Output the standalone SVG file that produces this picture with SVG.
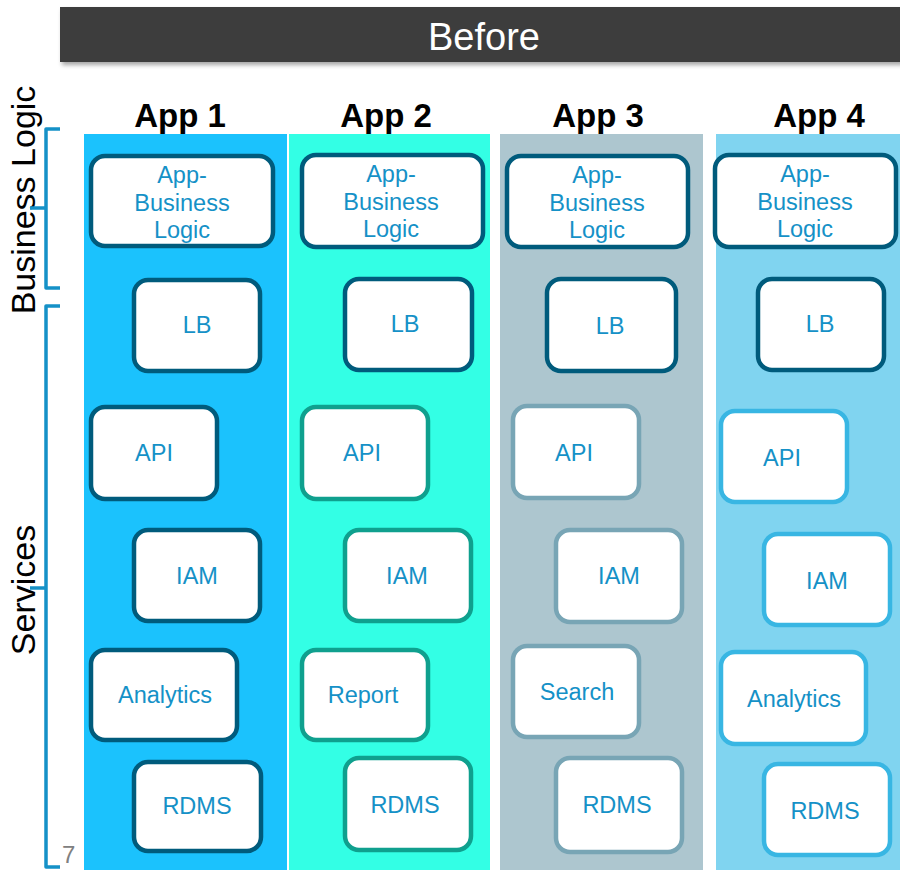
<svg xmlns="http://www.w3.org/2000/svg" width="900" height="870" viewBox="0 0 900 870">
  <defs>
    <filter id="shadow" x="-5%" y="-30%" width="110%" height="160%">
      <feDropShadow dx="2" dy="3" stdDeviation="2" flood-color="#000" flood-opacity="0.35"/>
    </filter>
    <style>
      .box { fill: #ffffff; stroke-width: 4.5; }
      .dark { stroke: #005b7c; }
      .teal { stroke: #0fa08e; }
      .gray { stroke: #78a5b5; }
      .sky { stroke: #38b6e3; }
      .lbl { font-family: "Liberation Sans", Arial, sans-serif; font-size: 23.5px; fill: #1591c7; text-anchor: middle; }
      .app { font-family: "Liberation Sans", Arial, sans-serif; font-size: 33px; font-weight: bold; fill: #000; text-anchor: middle; }
      .side { font-family: "Liberation Sans", Arial, sans-serif; font-size: 34px; fill: #000; text-anchor: middle; }
      .brace { fill: none; stroke: #1591c7; stroke-width: 3.5; stroke-linejoin: round; }
    </style>
  </defs>

  <rect width="900" height="870" fill="#ffffff"/>

  <!-- title bar -->
  <g id="title">
    <rect x="60" y="7" width="845" height="55" fill="#3d3d3d" filter="url(#shadow)"/>
    <text x="484" y="50" font-family="Liberation Sans, Arial, sans-serif" font-size="38" fill="#ffffff" text-anchor="middle">Before</text>
  </g>

  <!-- side labels and braces -->
  <g id="side-labels">
    <text class="side" transform="translate(35,200) rotate(-90)">Business Logic</text>
    <text class="side" transform="translate(35,590) rotate(-90)">Services</text>
    <path class="brace" d="M60,129 L46,129 L46,288 L60,288 M46,208 L30,208"/>
    <path class="brace" d="M60,306 L46,306 L46,867 L60,867 M46,588 L30,588"/>
    <text x="62" y="863" font-family="Liberation Sans, Arial, sans-serif" font-size="24" fill="#808080">7</text>
  </g>

  <!-- column backgrounds -->
  <g id="columns">
    <rect x="84" y="134" width="203" height="736" fill="#1bc2fd"/>
    <rect x="289" y="134" width="201" height="736" fill="#33ffe5"/>
    <rect x="500" y="134" width="203" height="736" fill="#adc6cf"/>
    <rect x="716" y="134" width="184" height="736" fill="#80d4f0"/>
  </g>

  <!-- column titles -->
  <g id="titles">
    <text class="app" x="180" y="127">App 1</text>
    <text class="app" x="386" y="127">App 2</text>
    <text class="app" x="598" y="127">App 3</text>
    <text class="app" x="819" y="127">App 4</text>
  </g>

  <!-- App 1 -->
  <g id="app1-logic">
    <rect class="box dark" x="91" y="156" width="182" height="90" rx="14"/>
    <text class="lbl"><tspan x="182" y="183">App-</tspan><tspan x="182" y="211">Business</tspan><tspan x="182" y="238">Logic</tspan></text>
  </g>
  <g id="app1-lb">
    <rect class="box dark" x="134" y="280" width="126" height="91" rx="14"/>
    <text class="lbl" x="197" y="333">LB</text>
  </g>
  <g id="app1-api">
    <rect class="box dark" x="91" y="407" width="126" height="92" rx="14"/>
    <text class="lbl" x="154" y="461">API</text>
  </g>
  <g id="app1-iam">
    <rect class="box dark" x="134" y="530" width="126" height="91" rx="14"/>
    <text class="lbl" x="197" y="584">IAM</text>
  </g>
  <g id="app1-analytics">
    <rect class="box dark" x="91" y="650" width="146" height="90" rx="14"/>
    <text class="lbl" x="165" y="703">Analytics</text>
  </g>
  <g id="app1-rdms">
    <rect class="box dark" x="134" y="762" width="127" height="89" rx="14"/>
    <text class="lbl" x="197" y="814">RDMS</text>
  </g>

  <!-- App 2 -->
  <g id="app2-logic">
    <rect class="box dark" x="302" y="155" width="181" height="92" rx="14"/>
    <text class="lbl"><tspan x="391" y="182">App-</tspan><tspan x="391" y="210">Business</tspan><tspan x="391" y="237">Logic</tspan></text>
  </g>
  <g id="app2-lb">
    <rect class="box dark" x="345" y="279" width="127" height="91" rx="14"/>
    <text class="lbl" x="405" y="332">LB</text>
  </g>
  <g id="app2-api">
    <rect class="box teal" x="302" y="407" width="126" height="92" rx="14"/>
    <text class="lbl" x="362" y="461">API</text>
  </g>
  <g id="app2-iam">
    <rect class="box teal" x="345" y="530" width="126" height="91" rx="14"/>
    <text class="lbl" x="407" y="584">IAM</text>
  </g>
  <g id="app2-report">
    <rect class="box teal" x="302" y="650" width="126" height="90" rx="14"/>
    <text class="lbl" x="363" y="703">Report</text>
  </g>
  <g id="app2-rdms">
    <rect class="box teal" x="345" y="758" width="126" height="92" rx="14"/>
    <text class="lbl" x="405" y="813">RDMS</text>
  </g>

  <!-- App 3 -->
  <g id="app3-logic">
    <rect class="box dark" x="507" y="156" width="181" height="91" rx="14"/>
    <text class="lbl"><tspan x="597" y="183">App-</tspan><tspan x="597" y="211">Business</tspan><tspan x="597" y="238">Logic</tspan></text>
  </g>
  <g id="app3-lb">
    <rect class="box dark" x="547" y="279" width="129" height="92" rx="14"/>
    <text class="lbl" x="610" y="334">LB</text>
  </g>
  <g id="app3-api">
    <rect class="box gray" x="513" y="406" width="126" height="92" rx="14"/>
    <text class="lbl" x="574" y="461">API</text>
  </g>
  <g id="app3-iam">
    <rect class="box gray" x="556" y="530" width="126" height="92" rx="14"/>
    <text class="lbl" x="619" y="584">IAM</text>
  </g>
  <g id="app3-search">
    <rect class="box gray" x="513" y="646" width="126" height="91" rx="14"/>
    <text class="lbl" x="577" y="700">Search</text>
  </g>
  <g id="app3-rdms">
    <rect class="box gray" x="556" y="758" width="126" height="94" rx="14"/>
    <text class="lbl" x="617" y="813">RDMS</text>
  </g>

  <!-- App 4 -->
  <g id="app4-logic">
    <rect class="box dark" x="715" y="155" width="181" height="92" rx="14"/>
    <text class="lbl"><tspan x="805" y="182">App-</tspan><tspan x="805" y="210">Business</tspan><tspan x="805" y="237">Logic</tspan></text>
  </g>
  <g id="app4-lb">
    <rect class="box dark" x="758" y="279" width="126" height="91" rx="14"/>
    <text class="lbl" x="820" y="332">LB</text>
  </g>
  <g id="app4-api">
    <rect class="box sky" x="721" y="411" width="126" height="91" rx="14"/>
    <text class="lbl" x="782" y="466">API</text>
  </g>
  <g id="app4-iam">
    <rect class="box sky" x="764" y="534" width="126" height="91" rx="14"/>
    <text class="lbl" x="827" y="589">IAM</text>
  </g>
  <g id="app4-analytics">
    <rect class="box sky" x="721" y="652" width="145" height="92" rx="14"/>
    <text class="lbl" x="794" y="707">Analytics</text>
  </g>
  <g id="app4-rdms">
    <rect class="box sky" x="764" y="764" width="126" height="91" rx="14"/>
    <text class="lbl" x="825" y="819">RDMS</text>
  </g>
</svg>
